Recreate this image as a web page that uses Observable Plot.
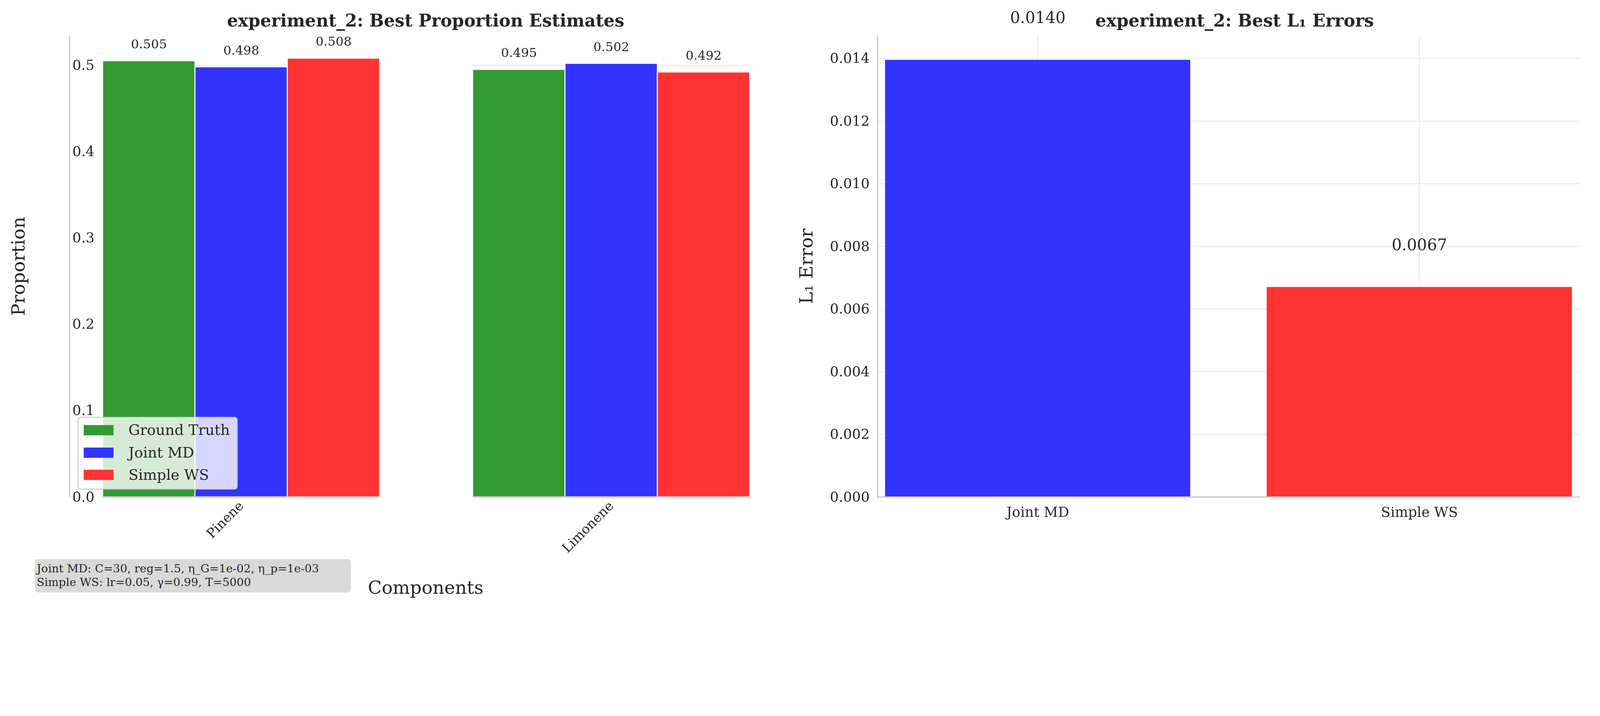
<!DOCTYPE html>
<html><head><meta charset="utf-8">
<script src="https://cdn.jsdelivr.net/npm/d3@7"></script>
<script src="https://cdn.jsdelivr.net/npm/@observablehq/plot@0.6"></script>
<style>
html,body{margin:0;background:#fff;font-family:"DejaVu Serif",serif;overflow:hidden;}
#wrap{position:relative;width:4834px;height:1834px;transform-origin:0 0;}
.abs{position:absolute;}
svg{font-family:"DejaVu Serif",serif;max-width:none !important;}
</style></head><body>
<div id="wrap"></div>
<script>
const components = ["Pinene", "Limonene"];
const methods = ["Ground Truth", "Joint MD", "Simple WS"];
const proportions = {
  "Ground Truth": [0.505, 0.495],
  "Joint MD": [0.498, 0.502],
  "Simple WS": [0.508, 0.492]
};
const errMethods = ["Joint MD", "Simple WS"];
const errValues = [0.01395, 0.0067];
const errLabels = ["0.0140", "0.0067"];
const colors = ["#339933", "#3333ff", "#ff3333"];
const propTicks = [0, 0.1, 0.2, 0.3, 0.4, 0.5];
const errTicks = [0, 0.002, 0.004, 0.006, 0.008, 0.010, 0.012, 0.014];

const rows = [];
components.forEach((c, i) => methods.forEach(m => rows.push({component: c, method: m, value: proportions[m][i]})));
const errRows = errMethods.map((m, i) => ({method: m, value: errValues[i], label: errLabels[i]}));

const wrap = document.getElementById("wrap");
const k = Math.min(window.innerWidth / 4834, window.innerHeight / 1834);
wrap.style.transform = `scale(${k})`;
function place(el, x, y) { el.classList.add("abs"); el.style.left = x + "px"; el.style.top = y + "px"; wrap.appendChild(el); }

const left = Plot.plot({
  width: 2420, height: 1834,
  marginLeft: 210, marginRight: 55, marginTop: 108, marginBottom: 332,
  style: {fontSize: "42px", color: "#262626", fontFamily: "DejaVu Serif, serif", overflow: "visible"},
  fx: {domain: components, padding: 0.25, paddingOuter: 0.088, axis: null},
  x: {domain: methods, padding: 0, axis: null},
  y: {domain: [0, 0.534], ticks: propTicks, tickFormat: d3.format(".1f"), label: null, tickSize: 0, tickPadding: 24},
  color: {domain: methods, range: colors},
  marks: [
    Plot.gridY(propTicks, {stroke: "#ebebeb", strokeWidth: 3, strokeOpacity: 1}),
    Plot.barY(rows, {fx: "component", x: "method", y: "value", fill: "method", stroke: "white", strokeWidth: 3}),
    Plot.text(rows, {fx: "component", x: "method", y: "value", text: d => d.value.toFixed(3), dy: -50, fontSize: 38, fill: "#262626"}),
    Plot.ruleY([0], {stroke: "#cccccc", strokeWidth: 4}),
    Plot.axisFx({anchor: "bottom", fontSize: 40, tickRotate: -45, tickSize: 0, tickPadding: 20, label: null})
  ]
});
place(left, 0, 0);
d3.select(left).append("line").attr("x1", 210).attr("x2", 210).attr("y1", 108).attr("y2", 1502).attr("stroke", "#cccccc").attr("stroke-width", 4);

const right = Plot.plot({
  width: 2414, height: 1834,
  marginLeft: 231, marginRight: 61, marginTop: 108, marginBottom: 332,
  style: {fontSize: "42px", color: "#262626", fontFamily: "DejaVu Serif, serif", overflow: "visible"},
  x: {domain: errMethods, padding: 0.2, paddingOuter: 0.02, label: null, tickSize: 0, tickPadding: 30},
  y: {domain: [0, 0.01472], ticks: errTicks, tickFormat: d3.format(".3f"), label: null, tickSize: 0, tickPadding: 24},
  color: {domain: methods, range: colors},
  marks: [
    Plot.gridY(errTicks, {stroke: "#ebebeb", strokeWidth: 3, strokeOpacity: 1}),
    Plot.gridX(errMethods, {stroke: "#ebebeb", strokeWidth: 3, strokeOpacity: 1}),
    Plot.barY(errRows, {x: "method", y: "value", fill: "method"}),
    Plot.text(errRows, {x: "method", y: "value", text: "label", dy: -127, fontSize: 48, fill: "#262626"}),
    Plot.ruleY([0], {stroke: "#cccccc", strokeWidth: 4}),
    Plot.frame({anchor: "left", stroke: "#cccccc", strokeWidth: 4})
  ]
});
place(right, 2420, 0);

function text(str, x, y, opts = {}) {
  const d = document.createElement("div");
  d.textContent = str;
  d.style.fontSize = (opts.size || 52) + "px";
  d.style.fontWeight = opts.bold ? "bold" : "normal";
  d.style.color = "#262626";
  d.style.whiteSpace = "nowrap";
  d.style.transform = `translate(-50%,-50%)` + (opts.rot ? ` rotate(${opts.rot}deg)` : "");
  place(d, x, y);
  return d;
}
text("experiment_2: Best Proportion Estimates", 1286, 62, {bold: true, size: 52});
text("experiment_2: Best L\u2081 Errors", 3730, 62, {bold: true, size: 52});
text("Proportion", 55, 805, {size: 55, rot: -90});
text("L\u2081 Error", 2436, 805, {size: 55, rot: -90});
text("Components", 1286, 1776, {size: 55});

const leg = document.createElement("div");
leg.style.cssText = "width:484px;height:220px;background:rgba(255,255,255,0.8);border:3px solid #cccccc;border-radius:10px;box-sizing:border-box;";
place(leg, 234, 1260);
methods.forEach((m, i) => {
  const s = document.createElement("div");
  s.style.cssText = `width:90px;height:31px;background:${colors[i]};`;
  place(s, 253, 1285 + i * 67.5);
  const t = document.createElement("div");
  t.textContent = m;
  t.style.cssText = "font-size:44px;color:#262626;line-height:44px;white-space:nowrap;";
  place(t, 388, 1278 + i * 67.5);
});

const ann = document.createElement("div");
ann.innerHTML = "Joint MD: C=30, reg=1.5, η_G=1e-02, η_p=1e-03<br>Simple WS: lr=0.05, γ=0.99, T=5000";
ann.style.cssText = "width:955px;height:101px;background:#d9d9d9;border-radius:10px;box-sizing:border-box;padding:8px 6px;font-size:34px;line-height:41px;color:#262626;white-space:nowrap;";
place(ann, 105, 1690);
</script>
</body></html>
